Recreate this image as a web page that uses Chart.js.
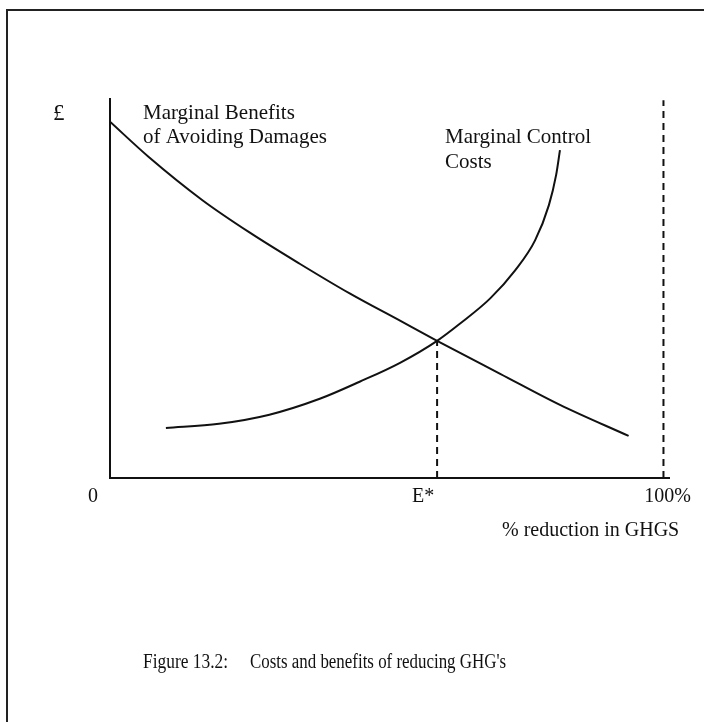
<!DOCTYPE html>
<html>
<head>
<meta charset="utf-8">
<script src="https://cdn.jsdelivr.net/npm/chart.js@4"></script>
<style>
  html, body { margin: 0; padding: 0; background: #fff; overflow: hidden; }
  #wrap { position: relative; width: 704px; height: 722px; }
  #frame { position: absolute; left: 6px; top: 9px; width: 720px; height: 740px;
           border-top: 2px solid #222; border-left: 2px solid #222; }
</style>
</head>
<body>
<div id="wrap">
  <div id="frame"></div>
  <canvas id="chart" width="704" height="722"></canvas>
</div>
<script>
// values (x = % reduction, y = £ in arbitrary units)
const benefitsX = [0, 7, 16.7, 25.2, 34.2, 43.3, 52.4, 59.1, 70.5, 81.3, 93.7];
const benefitsY = [94, 84.7, 73.3, 64.8, 56.6, 48.7, 41.5, 36.2, 27.5, 19.3, 11.1];

const costsX = [10.1, 19.7, 28.8, 37.9, 45.1, 52.4, 59.1, 63.2, 68.7, 73.2, 76.8, 79.3, 80.6, 81.3];
const costsY = [13.2, 14.3, 16.7, 20.9, 25.4, 30.4, 36.2, 40.7, 47.4, 54.8, 62.7, 72.0, 79.9, 86.5];

const eStar = 59.1;      // equilibrium reduction
const eStarY = 36.2;
const fullCut = 100;     // 100% reduction line
const fullCutTop = 99.7;

const xTickLabels = ["0", "E*", "100%"];
const benefitsLabel = ["Marginal Benefits", "of Avoiding Damages"];
const costsLabel = ["Marginal Control", "Costs"];
const yAxisLabel = "£";
const xAxisLabel = "% reduction in GHGS";
const caption = ["Figure 13.2:", "Costs and benefits of reducing GHG's"];

const pts = (xs, ys) => xs.map((x, i) => ({ x: x, y: ys[i] }));

const serif = '"Liberation Serif", "Times New Roman", serif';

// squeeze a text run into a given width (the scan's type is narrow)
function fitText(ctx, text, x, y, width) {
  const w = ctx.measureText(text).width;
  ctx.save();
  ctx.translate(x, y);
  ctx.scale(Math.min(1, width / w), 1);
  ctx.fillText(text, 0, 0);
  ctx.restore();
}

// text labels placed relative to the scales
const labelsPlugin = {
  id: "labels",
  afterDraw(chart) {
    const ctx = chart.ctx;
    const xs = chart.scales.x, ys = chart.scales.y;
    ctx.save();
    ctx.fillStyle = "#111";
    ctx.textBaseline = "alphabetic";

    const base = ys.getPixelForValue(0);
    ctx.font = "20px " + serif;
    ctx.textAlign = "center";
    ctx.fillText(xTickLabels[0], xs.getPixelForValue(0) - 17, base + 24);
    ctx.fillText(xTickLabels[1], xs.getPixelForValue(eStar) - 14, base + 24);
    ctx.fillText(xTickLabels[2], xs.getPixelForValue(fullCut) + 4, base + 24);

    ctx.textAlign = "left";
    ctx.fillText(xAxisLabel, 502, base + 58);

    ctx.font = "23px " + serif;
    ctx.fillText(yAxisLabel, 53, 120);

    ctx.font = "21px " + serif;
    ctx.fillText(benefitsLabel[0], 143, 119);
    ctx.fillText(benefitsLabel[1], 143, 143);
    ctx.fillText(costsLabel[0], 445, 143);
    ctx.fillText(costsLabel[1], 445, 168);

    ctx.font = "20px " + serif;
    fitText(ctx, caption[0], 143, 668, 85);
    fitText(ctx, caption[1], 250, 668, 256);
    ctx.restore();
  }
};

new Chart(document.getElementById("chart"), {
  type: "scatter",
  data: {
    datasets: [
      {
        label: "Marginal Benefits of Avoiding Damages",
        data: pts(benefitsX, benefitsY),
        showLine: true,
        borderColor: "#111",
        borderWidth: 2,
        pointRadius: 0,
        cubicInterpolationMode: "monotone"
      },
      {
        label: "Marginal Control Costs",
        data: pts(costsX, costsY),
        showLine: true,
        borderColor: "#111",
        borderWidth: 2,
        pointRadius: 0,
        cubicInterpolationMode: "monotone"
      },
      {
        label: "E*",
        data: [{ x: eStar, y: 0 }, { x: eStar, y: eStarY }],
        showLine: true,
        borderColor: "#111",
        borderWidth: 2,
        borderDash: [7, 5],
        pointRadius: 0
      },
      {
        label: "100%",
        data: [{ x: fullCut, y: 0 }, { x: fullCut, y: fullCutTop }],
        showLine: true,
        borderColor: "#111",
        borderWidth: 2,
        borderDash: [7, 5],
        pointRadius: 0
      }
    ]
  },
  options: {
    responsive: false,
    animation: false,
    layout: { padding: { left: 110, top: 99, right: 35, bottom: 244 } },
    plugins: { legend: { display: false }, tooltip: { enabled: false } },
    scales: {
      x: {
        type: "linear",
        min: 0,
        max: 101,
        grid: { display: false, drawTicks: false },
        ticks: { display: false },
        border: { display: true, color: "#111", width: 2 }
      },
      y: {
        type: "linear",
        min: 0,
        max: 100,
        grid: { display: false, drawTicks: false },
        ticks: { display: false },
        border: { display: true, color: "#111", width: 2 }
      }
    }
  },
  plugins: [labelsPlugin]
});
</script>
</body>
</html>
